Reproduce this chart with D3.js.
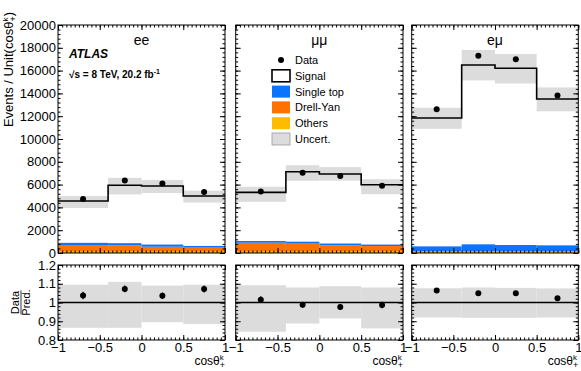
<!DOCTYPE html>
<html>
<head>
<meta charset="utf-8">
<script src="https://cdn.jsdelivr.net/npm/d3@7"></script>
<style>
  body { margin: 0; background: #fff; }
  svg { display: block; }
  text { font-family: "Liberation Sans", Arial, Helvetica, sans-serif; }
</style>
</head>
<body>
<svg id="chart" width="581" height="371"></svg>
<script>
// ---- data ----
const channels = ["ee", "μμ", "eμ"];
const binEdges = [-1, -0.4, 0, 0.5, 1];
const binCenters = [-0.7, -0.2, 0.25, 0.75];

// total prediction (signal + backgrounds), events / unit
const predEE = [4560, 5940, 5880, 5000];
const predMM = [5320, 7130, 6930, 5990];
const predEM = [11840, 16490, 16200, 13510];

const dataEE = [4730, 6370, 6090, 5360];
const dataMM = [5400, 7040, 6760, 5910];
const dataEM = [12600, 17300, 16990, 13820];

const statEE = [90, 105, 100, 95];
const statMM = [95, 110, 105, 100];
const statEM = [145, 170, 165, 150];

// relative uncertainty band (pred. = 1)
const uncLoEE = [0.865, 0.865, 0.895, 0.885];
const uncHiEE = [1.095, 1.11, 1.09, 1.095];
const uncLoMM = [0.844, 0.888, 0.915, 0.862];
const uncHiMM = [1.092, 1.08, 1.087, 1.08];
const uncLoEM = [0.92, 0.918, 0.918, 0.92];
const uncHiEM = [1.076, 1.08, 1.078, 1.075];

// backgrounds, events / unit
const othersEE = [120, 120, 120, 120];
const drellYanEE = [580, 560, 430, 350];
const singleTopEE = [190, 180, 190, 150];
const othersMM = [120, 120, 120, 120];
const drellYanMM = [780, 700, 560, 490];
const singleTopMM = [150, 170, 150, 130];
const othersEM = [110, 110, 110, 110];
const drellYanEM = [60, 60, 60, 60];
const singleTopEM = [410, 590, 530, 500];

const yTicks = d3.range(0, 20001, 2000);
const ratioTicks = [0.8, 0.9, 1, 1.1, 1.2];
const xTicks = [-1, -0.5, 0, 0.5, 1];
const xTickLabels = ["−1", "−0.5", "0", "0.5", "1"];

const legendItems = [
  { label: "Data", kind: "data" },
  { label: "Signal", kind: "box", fill: "#fff", stroke: "#000" },
  { label: "Single top", kind: "box", fill: "#0a74ff" },
  { label: "Drell-Yan", kind: "box", fill: "#ff7200" },
  { label: "Others", kind: "box", fill: "#ffbb00" },
  { label: "Uncert.", kind: "box", fill: "#dcdcdc", stroke: "#999" }
];

const colors = { singleTop: "#0a74ff", drellYan: "#ff7200", others: "#ffbb00", band: "#dcdcdc" };

const table = [
  { pred: predEE, data: dataEE, stat: statEE, lo: uncLoEE, hi: uncHiEE, bkg: [othersEE, drellYanEE, singleTopEE] },
  { pred: predMM, data: dataMM, stat: statMM, lo: uncLoMM, hi: uncHiMM, bkg: [othersMM, drellYanMM, singleTopMM] },
  { pred: predEM, data: dataEM, stat: statEM, lo: uncLoEM, hi: uncHiEM, bkg: [othersEM, drellYanEM, singleTopEM] }
];
const bkgColors = [colors.others, colors.drellYan, colors.singleTop];

// ---- layout ----
const panelX = [[58, 225], [235.7, 403], [411.7, 578.3]];
const topY = [25, 253];
const ratY = [265, 340];

const svg = d3.select("#chart");

const y = d3.scaleLinear().domain([0, 20000]).range([topY[1], topY[0]]);
const yr = d3.scaleLinear().domain([0.8, 1.2]).range([ratY[1], ratY[0]]);

// inward ticks on all four sides, ROOT style
function frameTicks(g, x, ys, yVals, yMinor, yMaj, yMin) {
  const [x0, x1] = x.range();
  const [yb, yt] = ys.range();
  const xMinor = d3.range(-1, 1.0001, 0.05);
  const add = (axis, tr) => {
    const a = g.append("g").attr("transform", tr).call(axis);
    a.select(".domain").remove();
    a.selectAll("line").attr("stroke", "#000");
  };
  add(d3.axisBottom(x).tickValues(xMinor).tickSize(-2.5).tickFormat(""), `translate(0,${yb})`);
  add(d3.axisBottom(x).tickValues(xTicks).tickSize(-5).tickFormat(""), `translate(0,${yb})`);
  add(d3.axisTop(x).tickValues(xMinor).tickSize(-2.5).tickFormat(""), `translate(0,${yt})`);
  add(d3.axisTop(x).tickValues(xTicks).tickSize(-5).tickFormat(""), `translate(0,${yt})`);
  add(d3.axisLeft(ys).tickValues(yMinor).tickSize(-yMin).tickFormat(""), `translate(${x0},0)`);
  add(d3.axisLeft(ys).tickValues(yVals).tickSize(-yMaj).tickFormat(""), `translate(${x0},0)`);
  add(d3.axisRight(ys).tickValues(yMinor).tickSize(-yMin).tickFormat(""), `translate(${x1},0)`);
  add(d3.axisRight(ys).tickValues(yVals).tickSize(-yMaj).tickFormat(""), `translate(${x1},0)`);
  g.append("rect")
    .attr("x", x0).attr("y", yt)
    .attr("width", x1 - x0).attr("height", yb - yt)
    .attr("fill", "none").attr("stroke", "#000").attr("stroke-width", 1);
}

table.forEach((ch, i) => {
  const x = d3.scaleLinear().domain([-1, 1]).range(panelX[i]);
  const g = svg.append("g");
  const bins = d3.range(4);

  // uncertainty band (top)
  g.append("g").selectAll("rect").data(bins).join("rect")
    .attr("x", b => x(binEdges[b]))
    .attr("width", b => x(binEdges[b + 1]) - x(binEdges[b]))
    .attr("y", b => y(ch.pred[b] * ch.hi[b]))
    .attr("height", b => y(ch.pred[b] * ch.lo[b]) - y(ch.pred[b] * ch.hi[b]))
    .attr("fill", colors.band);

  // stacked backgrounds
  let base = [0, 0, 0, 0];
  ch.bkg.forEach((vals, k) => {
    const lower = base.slice();
    const upper = base.map((v, b) => v + vals[b]);
    g.append("g").selectAll("rect").data(bins).join("rect")
      .attr("x", b => x(binEdges[b]))
      .attr("width", b => x(binEdges[b + 1]) - x(binEdges[b]))
      .attr("y", b => y(upper[b]))
      .attr("height", b => y(lower[b]) - y(upper[b]))
      .attr("fill", bkgColors[k]);
    base = upper;
  });

  // total prediction step line
  const stepPts = binEdges.map((e, b) => [e, ch.pred[Math.min(b, 3)]]);
  g.append("path")
    .attr("d", d3.line().x(d => x(d[0])).y(d => y(d[1])).curve(d3.curveStepAfter)(stepPts))
    .attr("fill", "none").attr("stroke", "#000").attr("stroke-width", 1.6);

  // data
  g.append("g").selectAll("line").data(bins).join("line")
    .attr("x1", b => x(binCenters[b])).attr("x2", b => x(binCenters[b]))
    .attr("y1", b => y(ch.data[b] - ch.stat[b])).attr("y2", b => y(ch.data[b] + ch.stat[b]))
    .attr("stroke", "#000").attr("stroke-width", 1.2);
  g.append("g").selectAll("circle").data(bins).join("circle")
    .attr("cx", b => x(binCenters[b])).attr("cy", b => y(ch.data[b]))
    .attr("r", 3).attr("fill", "#000");

  frameTicks(g, x, y, yTicks, d3.range(0, 20001, 400), 5, 2.5);

  // channel label
  g.append("text").attr("x", (panelX[i][0] + panelX[i][1]) / 2).attr("y", 45)
    .attr("text-anchor", "middle").attr("font-size", 14).text(channels[i]);

  // ---- ratio panel ----
  const gr = svg.append("g");
  gr.append("g").selectAll("rect").data(bins).join("rect")
    .attr("x", b => x(binEdges[b]))
    .attr("width", b => x(binEdges[b + 1]) - x(binEdges[b]))
    .attr("y", b => yr(ch.hi[b]))
    .attr("height", b => yr(ch.lo[b]) - yr(ch.hi[b]))
    .attr("fill", colors.band);
  gr.append("line")
    .attr("x1", x(-1)).attr("x2", x(1)).attr("y1", yr(1)).attr("y2", yr(1))
    .attr("stroke", "#000").attr("stroke-width", 1.6);
  gr.append("g").selectAll("line").data(bins).join("line")
    .attr("x1", b => x(binCenters[b])).attr("x2", b => x(binCenters[b]))
    .attr("y1", b => yr((ch.data[b] - ch.stat[b]) / ch.pred[b]))
    .attr("y2", b => yr((ch.data[b] + ch.stat[b]) / ch.pred[b]))
    .attr("stroke", "#000").attr("stroke-width", 1.2);
  gr.append("g").selectAll("circle").data(bins).join("circle")
    .attr("cx", b => x(binCenters[b])).attr("cy", b => yr(ch.data[b] / ch.pred[b]))
    .attr("r", 3).attr("fill", "#000");

  frameTicks(gr, x, yr, ratioTicks, d3.range(0.8, 1.2001, 0.02), 5, 2.5);

  // x tick labels
  const xl = gr.append("g").attr("transform", `translate(0,${ratY[1]})`)
    .call(d3.axisBottom(x).tickValues(xTicks).tickSize(0).tickPadding(3)
      .tickFormat((d, k) => xTickLabels[k]));
  xl.select(".domain").remove();
  xl.selectAll("text").attr("font-size", 13).attr("font-family", null).attr("fill", "#000");

  // x title
  const xt = gr.append("text").attr("x", panelX[i][1]).attr("y", 365)
    .attr("text-anchor", "end").attr("font-size", 12);
  xt.append("tspan").text("cosθ");
  xt.append("tspan").attr("font-size", 8).attr("dy", -5).text("k");
  xt.append("tspan").attr("font-size", 9).attr("dx", -4).attr("dy", 8).text("+");
});

// y tick labels (first panel)
const x0 = panelX[0][0];
const yl = svg.append("g").attr("transform", `translate(${x0},0)`)
  .call(d3.axisLeft(y).tickValues(yTicks).tickSize(0).tickPadding(2).tickFormat(d3.format("d")));
yl.select(".domain").remove();
yl.selectAll("text").attr("font-size", 13).attr("font-family", null).attr("fill", "#000");

const yrl = svg.append("g").attr("transform", `translate(${x0},0)`)
  .call(d3.axisLeft(yr).tickValues(ratioTicks).tickSize(0).tickPadding(2)
    .tickFormat(d => d === 1 ? "1" : d3.format(".1f")(d)));
yrl.select(".domain").remove();
yrl.selectAll("text").attr("font-size", 13).attr("font-family", null).attr("fill", "#000");

// y title
const yt = svg.append("text").attr("transform", "translate(13,12) rotate(-90)")
  .attr("text-anchor", "end").attr("font-size", 13);
yt.append("tspan").text("Events / Unit(cosθ");
yt.append("tspan").attr("font-size", 8).attr("dy", -5).text("k");
yt.append("tspan").attr("font-size", 9).attr("dx", -4).attr("dy", 8).text("+");
yt.append("tspan").attr("dy", -3).text(")");

// ratio title (fraction)
const rt = svg.append("g").attr("transform", `translate(21,${yr(1)}) rotate(-90)`);
rt.append("text").attr("y", -2).attr("text-anchor", "middle").attr("font-size", 11).text("Data");
rt.append("line").attr("x1", -12).attr("x2", 12).attr("y1", 0).attr("y2", 0).attr("stroke", "#000").attr("stroke-width", 0.8);
rt.append("text").attr("y", 9).attr("text-anchor", "middle").attr("font-size", 11).text("Pred.");

// ATLAS labels
svg.append("text").attr("x", 69).attr("y", 58).attr("font-size", 12)
  .attr("font-weight", "bold").attr("font-style", "italic").text("ATLAS");
const lum = svg.append("text").attr("x", 69).attr("y", 78).attr("font-size", 10).attr("font-weight", "bold");
lum.append("tspan").text("√s = 8 TeV, 20.2 fb");
lum.append("tspan").attr("font-size", 7).attr("dy", -4).text("-1");

// legend
const leg = svg.append("g").attr("transform", "translate(272,60)");
const rows = leg.selectAll("g").data(legendItems).join("g")
  .attr("transform", (d, k) => `translate(0,${k * 15.8})`);
rows.filter(d => d.kind === "data").append("circle").attr("cx", 9).attr("cy", 0).attr("r", 3).attr("fill", "#000");
rows.filter(d => d.kind === "box").append("rect")
  .attr("x", 0).attr("y", -6).attr("width", 18).attr("height", 12)
  .attr("fill", d => d.fill)
  .attr("stroke", d => d.stroke || "none")
  .attr("stroke-width", d => d.label === "Signal" ? 1.6 : 0.8);
rows.append("text").attr("x", 23).attr("y", 4).attr("font-size", 11).text(d => d.label);
</script>
</body>
</html>
